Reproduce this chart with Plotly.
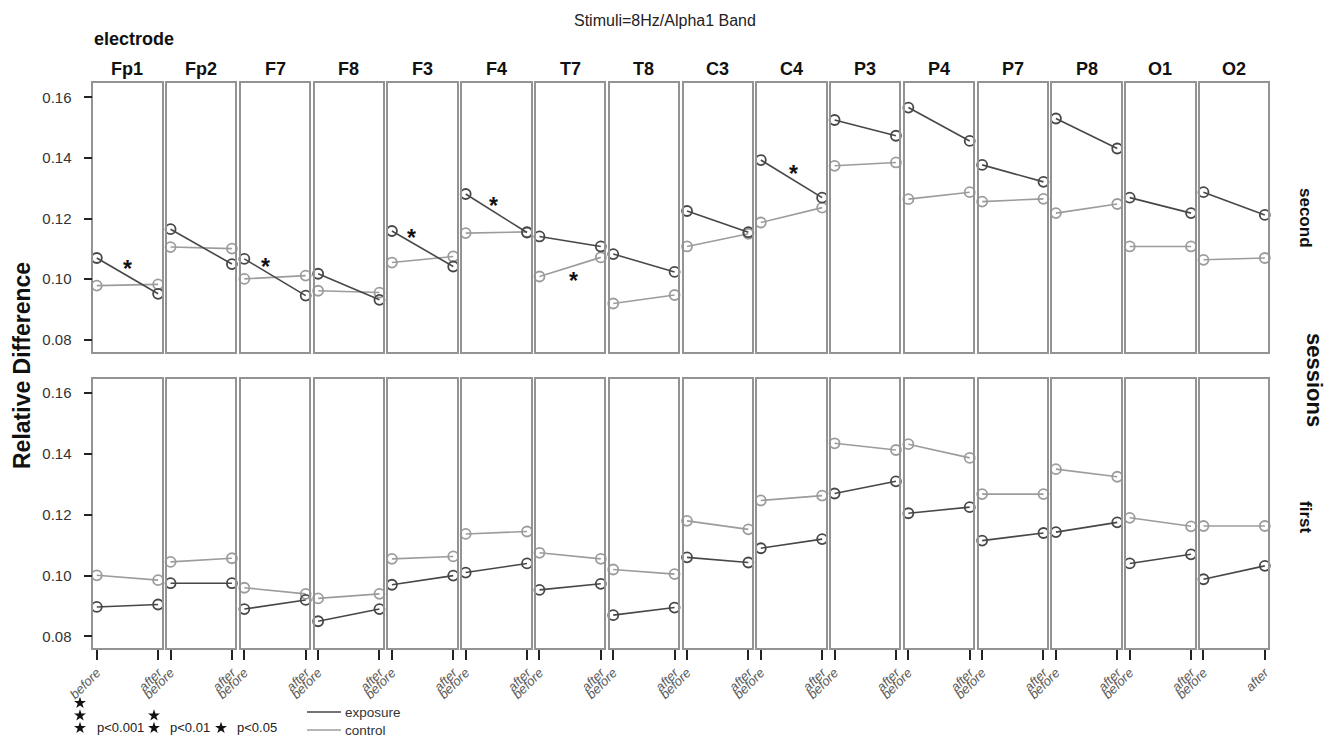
import plotly.graph_objects as go
from plotly.subplots import make_subplots

electrodes = ["Fp1", "Fp2", "F7", "F8", "F3", "F4", "T7", "T8",
              "C3", "C4", "P3", "P4", "P7", "P8", "O1", "O2"]
time_labels = ["before", "after"]
sessions = ["second", "first"]

second_exposure_before = [0.1070, 0.1165, 0.1067, 0.1018, 0.1159, 0.1281, 0.1141, 0.1083,
                          0.1225, 0.1393, 0.1525, 0.1566, 0.1377, 0.1530, 0.1269, 0.1287]
second_exposure_after = [0.0952, 0.1050, 0.0946, 0.0932, 0.1042, 0.1154, 0.1108, 0.1024,
                         0.1155, 0.1269, 0.1473, 0.1456, 0.1321, 0.1431, 0.1218, 0.1212]
second_control_before = [0.0979, 0.1106, 0.1001, 0.0962, 0.1055, 0.1152, 0.1009, 0.0920,
                         0.1108, 0.1187, 0.1374, 0.1264, 0.1256, 0.1218, 0.1108, 0.1064]
second_control_after = [0.0983, 0.1101, 0.1012, 0.0956, 0.1075, 0.1156, 0.1072, 0.0948,
                        0.1150, 0.1236, 0.1385, 0.1287, 0.1265, 0.1248, 0.1108, 0.1070]

first_exposure_before = [0.0897, 0.0975, 0.0890, 0.0850, 0.0970, 0.1010, 0.0953, 0.0870,
                         0.1060, 0.1090, 0.1270, 0.1205, 0.1115, 0.1143, 0.1040, 0.0988]
first_exposure_after = [0.0905, 0.0975, 0.0920, 0.0890, 0.1000, 0.1040, 0.0973, 0.0895,
                        0.1043, 0.1120, 0.1310, 0.1225, 0.1140, 0.1175, 0.1070, 0.1032]
first_control_before = [0.1001, 0.1045, 0.0960, 0.0925, 0.1055, 0.1137, 0.1075, 0.1020,
                        0.1180, 0.1247, 0.1435, 0.1432, 0.1268, 0.1350, 0.1190, 0.1163]
first_control_after = [0.0985, 0.1057, 0.0940, 0.0940, 0.1063, 0.1145, 0.1055, 0.1005,
                       0.1152, 0.1263, 0.1413, 0.1387, 0.1268, 0.1325, 0.1162, 0.1163]

# significance stars (second session)
star_electrodes = ["Fp1", "F7", "F3", "F4", "T7", "C4"]
star_x = [0.50, 0.34, 0.32, 0.455, 0.555, 0.53]
star_y = [0.1053, 0.1060, 0.1157, 0.1262, 0.1014, 0.1366]

# significance legend: number of stars per level
sig_labels = ["p<0.001", "p<0.01", "p<0.05"]
sig_counts = [3, 2, 1]

y_ticks = [0.08, 0.10, 0.12, 0.14, 0.16]

# ---------------- layout geometry ----------------
W, H = 1328, 739
FONT = "Liberation Sans, Arial, sans-serif"
EXP_COLOR = "#474747"
CTL_COLOR = "#9c9c9c"
BORDER = "#939393"

left0 = 93.3
pitch = 73.78
pw = 68.3
row_px = {1: (82.7, 351.7), 2: (378.5, 648.3)}


def px_x(p):
    return p / W


def px_y(p):
    return 1 - p / H


n = len(electrodes)
fig = make_subplots(rows=2, cols=n)

data = {
    "second": (second_exposure_before, second_exposure_after,
               second_control_before, second_control_after),
    "first": (first_exposure_before, first_exposure_after,
              first_control_before, first_control_after),
}

for r, sess in enumerate(sessions, start=1):
    eb, ea, cb, ca = data[sess]
    for c in range(n):
        fig.add_trace(go.Scatter(
            x=[0, 1], y=[cb[c], ca[c]], mode="lines+markers",
            line=dict(color=CTL_COLOR, width=1.6),
            marker=dict(symbol="circle-open", size=10, color=CTL_COLOR,
                        line=dict(width=1.8, color=CTL_COLOR)),
            cliponaxis=False, showlegend=False, name="control"),
            row=r, col=c + 1)
        fig.add_trace(go.Scatter(
            x=[0, 1], y=[eb[c], ea[c]], mode="lines+markers",
            line=dict(color=EXP_COLOR, width=1.6),
            marker=dict(symbol="circle-open", size=10, color=EXP_COLOR,
                        line=dict(width=1.8, color=EXP_COLOR)),
            cliponaxis=False, showlegend=False, name="exposure"),
            row=r, col=c + 1)

annotations = []

for r in (1, 2):
    top, bot = row_px[r]
    for c in range(n):
        k = (r - 1) * n + c + 1
        xs = "" if k == 1 else str(k)
        x0 = left0 + c * pitch
        fig.layout["xaxis" + xs].update(
            domain=[px_x(x0), px_x(x0 + pw)], automargin=False,
            range=[-0.057, 1.057], tickvals=[0, 1],
            ticktext=["<i>%s</i>" % t for t in time_labels],
            showticklabels=(r == 2), ticks="outside" if r == 2 else "",
            ticklen=10, tickwidth=2, tickcolor="#222",
            tickangle=-45, tickfont=dict(family=FONT, size=13, color="#5a5a5a"),
            showline=True, mirror=True, linecolor=BORDER, linewidth=1.5,
            showgrid=False, zeroline=False, fixedrange=True)
        fig.layout["yaxis" + xs].update(
            domain=[px_y(bot), px_y(top)], automargin=False,
            range=[0.0761, 0.1648], tickvals=y_ticks,
            ticktext=["%.2f" % v for v in y_ticks],
            showticklabels=(c == 0), ticks="outside" if c == 0 else "",
            ticklen=8, tickwidth=2, tickcolor="#222", ticklabelstandoff=9,
            tickfont=dict(family=FONT, size=15, color="#333"),
            showline=True, mirror=True, linecolor=BORDER, linewidth=1.5,
            showgrid=False, zeroline=False, fixedrange=True)

# overlay axis in pixel units for the significance legend stars
fig.update_layout(
    xaxis33=dict(domain=[0, 1], range=[0, W], visible=False, fixedrange=True,
                 anchor="y33"),
    yaxis33=dict(domain=[0, 1], range=[H, 0], visible=False, fixedrange=True,
                 anchor="x33"),
)
leg_star_x = [80, 154, 221]
sx_list, sy_list = [], []
for lx, cnt in zip(leg_star_x, sig_counts):
    for j in range(cnt):
        sx_list.append(lx)
        sy_list.append(728 - j * 12.5)
fig.add_trace(go.Scatter(
    x=sx_list, y=sy_list, xaxis="x33", yaxis="y33", mode="markers",
    marker=dict(symbol="star", size=9, color="#111", line=dict(width=0)),
    cliponaxis=False, showlegend=False, hoverinfo="skip"))

# column headers
for c, name in enumerate(electrodes):
    x0 = left0 + c * pitch
    annotations.append(dict(
        x=px_x(x0 + pw / 2), y=px_y(69), xref="paper", yref="paper",
        text="<b>%s</b>" % name, showarrow=False,
        font=dict(family=FONT, size=18, color="#111"),
        xanchor="center", yanchor="middle"))

# significance stars
for e, sx, sy in zip(star_electrodes, star_x, star_y):
    k = electrodes.index(e) + 1
    xs = "" if k == 1 else str(k)
    annotations.append(dict(
        x=sx, y=sy, xref="x" + xs, yref="y" + xs, text="<b>*</b>", showarrow=False,
        font=dict(family=FONT, size=23, color="#111"),
        xanchor="center", yanchor="middle", yshift=-6))

# titles
annotations += [
    dict(x=px_x(665), y=px_y(20), text="Stimuli=8Hz/Alpha1 Band",
         font=dict(family=FONT, size=16, color="#222")),
    dict(x=px_x(92), y=px_y(39), text="<b>electrode</b>", xanchor="left",
         font=dict(family=FONT, size=18, color="#111")),
    dict(x=px_x(22), y=px_y(366), text="<b>Relative Difference</b>", textangle=-90,
         font=dict(family=FONT, size=23, color="#111")),
    dict(x=px_x(1314), y=px_y(380), text="<b>sessions</b>", textangle=90,
         font=dict(family=FONT, size=22, color="#111")),
    dict(x=px_x(1306), y=px_y(218), text="<b>second</b>", textangle=90,
         font=dict(family=FONT, size=17, color="#111")),
    dict(x=px_x(1306), y=px_y(517), text="<b>first</b>", textangle=90,
         font=dict(family=FONT, size=17, color="#111")),
]

# significance legend labels
for label, tx in zip(sig_labels, [95, 168, 235]):
    annotations.append(dict(x=px_x(tx), y=px_y(727), text=label, xanchor="left",
                            font=dict(family=FONT, size=13, color="#222")))

# line legend
shapes = []
for yy, col, label in [(712, EXP_COLOR, "exposure"), (730, CTL_COLOR, "control")]:
    shapes.append(dict(type="line", xref="paper", yref="paper",
                       x0=px_x(307), x1=px_x(341), y0=px_y(yy), y1=px_y(yy),
                       line=dict(color=col, width=1.5)))
    annotations.append(dict(x=px_x(343), y=px_y(yy), text=label, xanchor="left",
                            font=dict(family=FONT, size=13.5, color="#333")))

for a in annotations:
    a.setdefault("xref", "paper")
    a.setdefault("yref", "paper")
    a.setdefault("showarrow", False)
    a.setdefault("xanchor", "center")
    a.setdefault("yanchor", "middle")

fig.update_layout(
    width=W, height=H, margin=dict(l=0, r=0, t=0, b=0),
    paper_bgcolor="white", plot_bgcolor="rgba(0,0,0,0)",
    annotations=annotations, shapes=shapes, showlegend=False,
    font=dict(family=FONT),
)

fig.write_html("out.html")
